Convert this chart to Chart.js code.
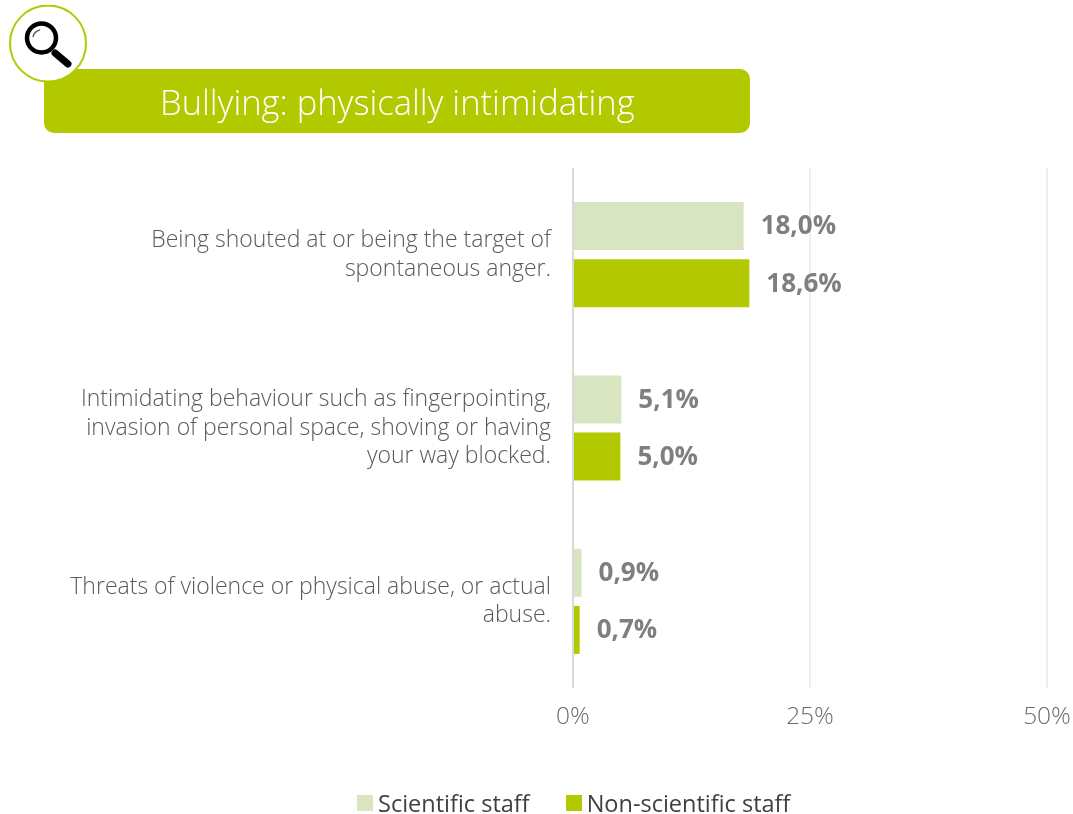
<!DOCTYPE html>
<html>
<head>
<meta charset="utf-8">
<title>Bullying: physically intimidating</title>
<script src="https://cdn.jsdelivr.net/npm/chart.js@4"></script>
<style>
    html, body { margin: 0; padding: 0; background: #fff; }
    #page { position: relative; width: 1073px; height: 814px; overflow: hidden; }
    #grafico { position: absolute; left: 0; top: 0; }
    #banner {
        position: absolute; left: 44px; top: 69px; width: 706px; height: 64px;
        background: #b2c900; border-radius: 10px; color: #fff;
        font: 300 34.5px "Open Sans", sans-serif; line-height: 66px;
    }
    #banner span { position: absolute; left: 116px; white-space: nowrap; }
    #icono { position: absolute; left: 7px; top: 5px; }
    #leyenda {
        position: absolute; top: 786px; left: 357px; display: flex; white-space: nowrap;
        color: #404040; font: 400 23.5px "Open Sans", sans-serif; line-height: 34px;
    }
    #leyenda div { display: flex; align-items: center; margin-right: 36px; }
    #leyenda i { display: block; width: 16px; height: 16px; margin-right: 5px; }
</style>
</head>
<body>
<div id="page">
    <canvas id="grafico" width="1073" height="814"></canvas>
    <div id="banner"><span>Bullying: physically intimidating</span></div>
    <svg id="icono" width="82" height="78" viewBox="0 0 82 78">
        <circle cx="41" cy="38.5" r="38" fill="#fff" stroke="#b2c900" stroke-width="2"/>
        <circle cx="34.5" cy="33" r="14.5" fill="none" stroke="#000" stroke-width="4.5"/>
        <path d="M26 32 A9 9 0 0 1 33 25" fill="none" stroke="#666" stroke-width="1.5"/>
        <line x1="48" y1="48" x2="61" y2="59" stroke="#000" stroke-width="7" stroke-linecap="round"/>
    </svg>
    <div id="leyenda"></div>
</div>
<script>
// Datos
const categorias = [
    ['Being shouted at or being the target of', 'spontaneous anger.'],
    ['Intimidating behaviour such as fingerpointing,', 'invasion of personal space, shoving or having', 'your way blocked.'],
    ['Threats of violence or physical abuse, or actual', 'abuse.']
];
const cientificos = [18.0, 5.1, 0.9];
const noCientificos = [18.6, 5.0, 0.7];
const ticksX = [0, 25, 50];

const fuente = '"Open Sans", sans-serif';
const verdeClaro = '#d9e5c1';
const verde = '#b2c900';
const gris = '#7f7f7f';

// Etiquetas de valor al final de cada barra
const etiquetasValor = {
    id: 'etiquetasValor',
    afterDatasetsDraw(chart) {
        const ctx = chart.ctx;
        ctx.save();
        ctx.font = '700 26px ' + fuente;
        ctx.fillStyle = gris;
        ctx.textAlign = 'left';
        ctx.textBaseline = 'middle';
        chart.data.datasets.forEach((ds, i) => {
            chart.getDatasetMeta(i).data.forEach((bar, j) => {
                ctx.fillText(ds.data[j].toFixed(1).replace('.', ',') + '%', bar.x + 17, bar.y + 1);
            });
        });
        ctx.restore();
    }
};

const grafico = new Chart(document.getElementById('grafico').getContext('2d'), {
    type: 'bar',
    data: {
        labels: categorias,
        datasets: [
            { label: 'Scientific staff', data: cientificos, backgroundColor: verdeClaro },
            { label: 'Non-scientific staff', data: noCientificos, backgroundColor: verde }
        ]
    },
    plugins: [etiquetasValor],
    options: {
        responsive: false,
        animation: false,
        indexAxis: 'y',
        categoryPercentage: 0.66,
        barPercentage: 0.84,
        layout: { padding: { left: 0, right: 26, top: 168, bottom: 48 } },
        plugins: {
            legend: { display: false },
            tooltip: { enabled: false }
        },
        scales: {
            x: {
                min: 0,
                max: 50,
                afterBuildTicks(axis) { axis.ticks = ticksX.map(v => ({ value: v })); },
                afterFit(axis) {
                    axis.height = 78;
                    axis.paddingLeft = 0;
                    axis.paddingRight = 0;
                },
                border: { display: false },
                grid: {
                    drawTicks: false,
                    color: c => c.tick.value === 0 ? '#d9d9d9' : '#eeeeee',
                    lineWidth: 2
                },
                ticks: {
                    padding: 14,
                    color: '#6a6a6a',
                    maxRotation: 0,
                    callback: v => v + '%',
                    font: { family: fuente, size: 24.5, weight: '300' }
                }
            },
            y: {
                afterFit(axis) { axis.width = 573; },
                border: { display: false },
                grid: { display: false, drawTicks: false },
                ticks: {
                    padding: 22,
                    color: '#595959',
                    font: { family: fuente, size: 23, weight: '300', lineHeight: 1.25 }
                }
            }
        }
    }
});

// Leyenda a partir de las series
document.getElementById('leyenda').innerHTML = grafico.data.datasets.map(ds =>
    `<div><i style="background:${ds.backgroundColor}"></i>${ds.label}</div>`
).join('');
</script>
</body>
</html>
